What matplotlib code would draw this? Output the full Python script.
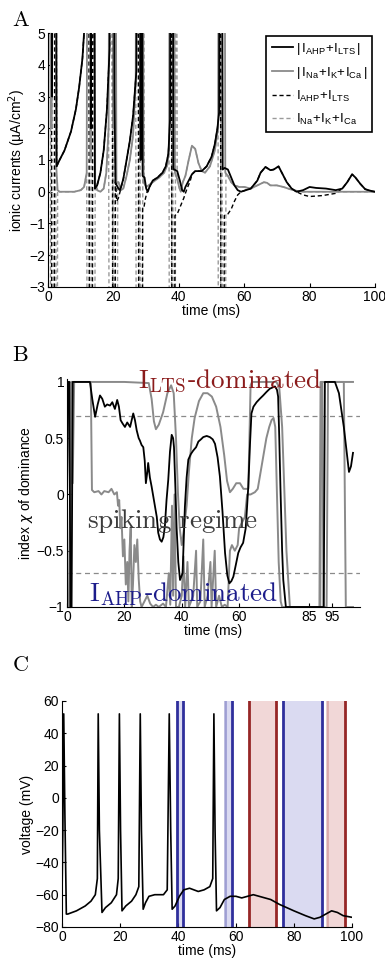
#!/usr/bin/env python3
# -*- coding: utf-8 -*-
"""
Corrientes ionicas, indice de dominancia y voltaje
"""

import numpy as np
import matplotlib.pyplot as plt

plt.rcParams.update({'font.size': 10, 'font.family': ['Liberation Sans', 'DejaVu Sans'],
                     'xtick.direction': 'in', 'ytick.direction': 'in',
                     'mathtext.fontset': 'dejavusans'})

#%% Datos panel A: corrientes (tiempo en ms, corriente en uA/cm2)
t_ahp = [0, 0.3, 0.9, 1.2, 1.6, 2.3, 2.6, 3.5, 5, 7, 8.5, 9.5, 10.5, 11.3, 12.3, 12.8, 13.1, 13.4,
         13.8, 14.3, 15, 16, 17, 18, 18.8, 19.5, 19.9, 20.3, 20.6, 21, 21.5, 22, 23, 24, 25, 26, 27,
         27.4, 27.9, 28.3, 28.6, 28.9, 29.5, 30, 30.5, 31, 32, 33.5, 35, 36, 36.8, 37.3, 37.6, 38.0,
         38.3, 38.6, 39.5, 40.3, 41, 41.5, 42, 43, 44, 45, 47, 48.5, 50, 51, 51.8, 52.3, 52.6, 53.0,
         53.4, 54, 55, 56, 57, 58, 59, 60.5, 62, 64, 65, 66.5, 68, 69, 70.5, 71.5, 73, 74.5, 76, 78,
         80, 82, 85, 88, 90, 91.5, 93, 94, 95.5, 97, 99, 100]
i_ahp_abs = [1.5, 20, 20, 3, 20, 20, 0.8, 1.0, 1.3, 1.9, 2.6, 3.3, 4.2, 5.5, 20, 20, 2, 20,
             20, 0.1, 0.2, 0.6, 1.3, 2.6, 4.5, 20, 20, 3.1, 0.3, 0.2, 0.1, 0.05, 0.4, 1.0, 1.6, 2.4, 3.8,
             20, 20, 1, 20, 0.5, 0.45, 0.1, 0.0, 0.15, 0.35, 0.45, 0.6, 0.8, 1.2, 2.3, 20, 20,
             0.7, 0.7, 0.65, 0.35, 0.05, 0.0, 0.15, 0.35, 0.55, 0.65, 0.65, 0.8, 1.1, 1.5, 2.0, 2.5, 20, 20,
             0.7, 0.75, 0.7, 0.45, 0.2, 0.05, 0.0, 0.05, 0.1, 0.35, 0.6, 0.78, 0.68, 0.7, 0.8, 0.6, 0.3, 0.1, 0.0, 0.05,
             0.15, 0.12, 0.1, 0.05, 0.1, 0.3, 0.55, 0.45, 0.25, 0.08, 0.02, 0.0]

t_ahp_s = [0, 0.3, 0.9, 1.2, 1.6, 2.3, 2.6, 3.5, 5, 7, 8.5, 9.5, 10.5, 11.3, 12.3, 12.8, 13.4,
           13.8, 14.3, 15, 16, 17, 18, 18.8, 19.5, 19.9, 20.3, 20.6, 21, 21.5, 22, 23, 24, 25, 26, 27,
           27.4, 27.9, 28.6, 28.9, 29.3, 29.8, 30.3, 31, 32, 33.5, 35, 36, 36.8, 37.3, 37.6, 38.0,
           38.5, 38.8, 39.5, 40.5, 41.5, 42.5, 43.5, 44, 45, 47, 48.5, 50, 51, 51.8, 52.3, 52.6, 53.0,
           53.6, 53.9, 55, 56, 57, 58, 59, 60.5, 62, 64, 65, 66.5, 68, 69, 70.5, 71.5, 73, 74.5, 76, 78,
           80, 84, 88, 90, 91.5, 93, 94, 95.5, 97, 99, 100]
i_ahp = [1.5, 20, 20, -20, -20, 20, 0.8, 1.0, 1.3, 1.9, 2.6, 3.3, 4.2, 5.5, 20, -20, -20,
         20, 0.1, 0.2, 0.6, 1.3, 2.6, 4.5, 20, -20, -20, 0.3, -0.3, -0.2, 0.0, 0.4, 1.0, 1.6, 2.4, 3.8,
         20, -20, -20, -0.5, -0.5, -0.2, 0.0, 0.15, 0.35, 0.45, 0.6, 0.8, 1.2, 2.3, 20, -20,
         -20, -0.75, -0.7, -0.45, -0.2, 0.1, 0.35, 0.55, 0.65, 0.65, 0.8, 1.1, 1.5, 2.0, 2.5, 20, -20,
         -20, -0.75, -0.7, -0.55, -0.3, -0.1, 0.0, 0.05, 0.1, 0.35, 0.6, 0.78, 0.68, 0.7, 0.8, 0.6, 0.3, 0.1, 0.0, -0.1,
         -0.15, -0.12, -0.05, 0.1, 0.3, 0.55, 0.45, 0.25, 0.08, 0.02, 0.0]

t_na = [0, 0.2, 0.7, 1.0, 1.4, 2.2, 2.5, 2.9, 3.5, 8, 10, 11, 11.8, 12.2, 12.7, 13.0, 13.3, 14.0,
        14.4, 15, 16, 17, 17.8, 18.5, 19.0, 19.6, 20.0, 20.4, 20.9, 21.5, 22.3, 23, 24, 25, 26, 26.8,
        27.2, 27.8, 28.2, 28.8, 29.2, 30, 30.7, 32, 34, 35.5, 36.5, 37.0, 37.4, 38.2, 38.8, 39.5,
        40.2, 40.6, 41.2, 42, 43, 44, 45, 46, 47, 48, 49.5, 51, 52, 52.4, 53.2, 53.8, 54.2, 55, 56,
        57, 58.5, 60, 62, 64, 66, 67, 68, 70, 72, 74, 76, 78, 100]
i_na_abs = [0.5, 20, 20, 2, 20, 20, 0.8, 0.05, 0.0, 0.0, 0.05, 0.15, 0.6, 20, 20, 1, 20, 20,
            0.3, 0.05, 0.0, 0.1, 0.6, 2, 20, 20, 2, 20, 0.3, 0.3, 0.05, 0.1, 0.5, 1.0, 1.8, 3.5,
            20, 20, 2, 20, 0.3, 0.15, 0.2, 0.3, 0.45, 0.6, 0.85, 1.5, 20, 20, 0.6, 0.4,
            0.1, 0.0, 0.3, 0.5, 1.0, 1.45, 1.35, 0.9, 0.65, 0.6, 0.8, 1.3, 2.0, 20, 20, 20, 0.6, 0.5, 0.3,
            0.2, 0.15, 0.15, 0.1, 0.2, 0.3, 0.28, 0.2, 0.2, 0.15, 0.08, 0.03, 0.0, 0.0]

t_na_s = [0, 0.2, 0.6, 0.9, 1.3, 1.7, 2.1, 2.6, 2.9, 3.5, 8, 10, 11, 11.8, 12.2, 12.6, 13.1, 13.6,
          14.0, 14.4, 15, 16, 17, 17.8, 18.5, 19.0, 19.6, 20.0, 20.4, 20.9, 21.3, 21.6, 22.3, 23, 24,
          25, 26, 26.8, 27.2, 27.6, 28.0, 28.4, 28.8, 29.1, 29.4, 30, 30.7, 32, 34, 35.5, 36.5, 37.0,
          37.2, 37.6, 38.0, 38.4, 38.8, 39.1, 39.5, 40.2, 40.6, 41.2, 42, 43, 44, 45, 46, 47, 48, 49.5,
          51, 52, 52.2, 52.6, 53.0, 53.5, 54.0, 54.4, 55, 56, 57, 58.5, 60, 62, 64, 66, 67, 68, 70, 72,
          74, 76, 78, 100]
i_na = [0.5, -20, -20, 20, -20, -20, 20, -20, 0.05, 0.0, 0.0, 0.05, 0.15, 0.6, -20, -20, 20, -20,
        -20, 0.3, 0.05, 0.0, 0.1, 0.6, 2, -20, -20, 20, -20, -20, 0.3, 0.3, 0.05, 0.1, 0.5,
        1.0, 1.8, 3.5, -20, -20, 20, -20, -20, 20, 0.3, 0.15, 0.2, 0.3, 0.45, 0.6, 0.85, 1.5,
        -20, -20, 20, -20, -20, 20, 0.4, 0.1, 0.0, 0.3, 0.5, 1.0, 1.45, 1.35, 0.9, 0.65, 0.6, 0.8,
        1.3, 2.0, -20, -20, 20, -20, -20, 0.6, 0.5, 0.3, 0.2, 0.15, 0.15, 0.1, 0.2, 0.3, 0.28, 0.2, 0.2, 0.15,
        0.08, 0.03, 0.0, 0.0]

#%% Datos panel B: indice de dominancia
t_chi = [0, 0.3, 0.8, 1.2, 1.6, 2.0, 8.0, 8.8, 9.8, 10.7, 11.5, 12.3, 13.2, 14.0, 15.0, 15.8, 16.7,
         17.5, 18.1, 18.7, 19.4, 20.2, 21.0, 22.0, 23.1, 23.7, 24.3, 25.0, 25.4, 26.0, 26.6, 27.1,
         27.5, 28.0, 28.3, 28.9, 29.5, 30.1, 30.7, 31.3, 31.8, 32.4, 33.0, 33.6, 34.1, 34.7, 35.3,
         35.9, 36.5, 37.0, 37.3, 37.8, 38.2, 38.8, 39.4, 40.3, 40.7, 41.1, 41.7, 42.3, 43.2, 44.0,
         45.0, 45.8, 46.7, 47.5, 48.7, 49.8, 50.8, 51.6, 52.5, 53.3, 54.2, 55.1, 55.9, 56.6, 57.3,
         58.0, 58.9, 59.7, 60.5, 61.4, 62.3, 62.8, 63.2, 63.8, 64.3, 65.0, 66.1, 67.2, 68.4, 69.5,
         70.7, 71.6, 72.5, 73.2, 73.6, 74.0, 74.4, 75.0, 75.4, 76.3, 89.5, 89.9, 93.4, 94.8, 96.5,
         98.3, 99.0, 99.7]
chi = [0, 1, 1, -1, -1, 1, 1, 0.85, 0.69, 0.8, 0.88, 0.85, 0.78, 0.8, 0.79, 0.82, 0.76,
       0.84, 0.78, 0.66, 0.63, 0.6, 0.64, 0.6, 0.72, 0.66, 0.57, 0.5, 0.48, 0.44, 0.42, 0.3,
       0.1, 0.2, 0.28, 0.15, 0.07, -0.02, -0.11, -0.2, -0.34, -0.4, -0.42, -0.38, -0.29, -0.05, 0.13,
       0.38, 0.53, 0.5, 0.42, 0.05, -0.29, -0.6, -0.76, -0.7, -0.4, -0.11, 0.15, 0.31, 0.36, 0.39,
       0.42, 0.47, 0.49, 0.51, 0.52, 0.51, 0.49, 0.45, 0.33, 0.16, -0.15, -0.52, -0.72, -0.79, -0.77,
       -0.73, -0.62, -0.52, -0.47, -0.43, -0.3, -0.1, 0.07, 0.45, 0.72, 0.78, 0.82, 0.85, 0.88, 0.91,
       0.94, 0.95, 0.96, 0.93, 0.87, 0.5, 0.07, -0.5, -0.76, -1, -1, 1, 1, 0.9, 0.6,
       0.2, 0.25, 0.37]

t_chi_max = [0, 0.5, 1.0, 1.5, 2.0, 2.5, 20, 28.5, 29.5, 30.3, 31.0, 32.0, 33.5, 35.0, 36.3, 37.2,
             38.0, 38.7, 39.3, 40.0, 40.8, 41.7, 42.5, 43.5, 44.5, 46.0, 47.5, 49.0, 50.5, 52.0,
             53.5, 54.8, 55.8, 56.8, 57.8, 59.0, 60.3, 61.5, 62.5, 63.2, 63.6, 64.0, 64.5, 73.0,
             74.0, 75.0, 76.5, 77.7, 88.3, 88.7, 99.7]
chi_max = [0, 1, 1, 0.1, 0.1, 1, 1, 0.99, 0.85, 0.65, 0.58, 0.62, 0.73, 0.9, 0.97, 0.9,
           0.5, 0.0, -0.3, -0.45, -0.3, -0.1, 0.2, 0.5, 0.68, 0.83, 0.9, 0.9, 0.87, 0.78,
           0.6, 0.35, 0.12, 0.02, 0.05, 0.1, 0.1, 0.05, 0.05, 0.05, 0.5, 0.97, 1.0, 1.0,
           0.95, 0.6, -0.5, -1, -1, 1, 1]

t_chi_min = [0, 0.4, 1.0, 1.6, 2.4, 8.3, 8.7, 9.5, 11, 12, 13, 14.5, 15.5, 16.5, 17.4, 17.8, 18.2,
             18.6, 19.0, 19.5, 20.0, 20.5, 21.0, 21.4, 21.8, 22.2, 22.6, 23.0, 23.5, 24.0, 24.5,
             25.0, 25.5, 26.0, 27.0, 28.0, 29.0, 30.0, 31.0, 32.0, 33.5, 34.5, 35.5, 36.0, 36.6,
             37.0, 37.5, 38.0, 39.0, 40.0, 40.6, 41.2, 42.0, 42.5, 44.0, 45.0, 45.4, 46.5, 47.5,
             48.0, 49.0, 50.0, 50.4, 51.5, 52.0, 53.0, 54.0, 55.0, 56.0, 56.8, 57.5, 58.5, 59.5,
             60.0, 61.0, 62.0, 62.8, 64.0, 65.5, 66.5, 67.5, 68.5, 69.5, 70.5, 71.3, 72.0, 72.6,
             73.2, 73.8, 74.5, 75.0, 88.0, 88.4, 89.0, 89.4, 90.5, 91.0, 96.5, 97.2, 99.7]
chi_min = [0, -1, -1, 1, 1, 1, 0.04, 0.02, 0.03, 0.0, 0.03, 0.02, 0.05, 0.0, 0.02, -0.1, -0.05,
           -0.3, -0.2, -0.55, -0.4, -0.8, -0.6, -0.95, -0.5, -0.3, -1.0, -0.8, -0.45, -0.6, -0.4,
           -0.75, -0.95, -1.0, -0.95, -0.9, -0.97, -1.0, -0.98, -1.0, -0.97, -1.0, -0.7, -0.98, -0.1,
           -0.9, 0.0, -1.0, -1.0, -0.9, -0.55, -1.0, -0.6, -1.0, -0.9, -0.5, -1.0, -0.95, -0.4,
           -1.0, -0.9, -0.6, -1.0, -0.5, -1.0, -0.9, -1.0, -0.98, -1.0, -0.5, -0.45, -0.5, -0.45,
           -0.3, -0.25, -0.2, 0.0, 0.0, 0.02, 0.05, 0.2, 0.35, 0.5, 0.6, 0.66, 0.68, 0.6,
           0.0, -0.6, -0.95, -1.0, -1.0, 1.0, 1.0, -1.0, -1.0, 1.0, 1.0, -1.0, -1.0]

umbral = 0.7
ticks_b = [0, 20, 40, 60, 84.5, 92.3]
etiquetas_b = ['0', '20', '40', '60', '85', '95']

#%% Datos panel C: voltaje
t_v = [0, 0.3, 0.6, 1.0, 1.5, 2, 5, 8, 10, 11.5, 12.2, 12.5, 12.9, 13.8, 15, 17, 18.8, 19.4,
       19.8, 20.2, 20.7, 22, 24, 25.5, 26.5, 27.0, 27.4, 28.0, 28.8, 30, 32, 35, 36.3, 37.0, 37.5,
       38.0, 39, 40.5, 42, 44, 47, 49, 51, 52.0, 52.4, 52.8, 53.3, 54.5, 56, 58, 60, 62, 64, 66,
       68, 70, 72, 75, 80, 84, 87, 89, 91, 93, 95, 97, 100]
v = [-62, -20, 52, -10, -72, -72, -70, -67, -64, -60, -50, 52, -20, -71, -68, -65, -60, -50,
     52, -20, -70, -67, -64, -60, -55, 52, -20, -69, -65, -61, -60, -60, -57, 52, -20,
     -69, -67, -61, -57, -56, -58, -57, -55, -50, 52, -20, -70, -68, -63, -61, -61, -62, -61, -60,
     -61, -62, -63, -66, -70, -73, -75, -74, -72, -70, -71, -73, -74]

# intervalos de dominancia: inicio, fin
ini_ahp = [39.8, 56.2, 76.1]
fin_ahp = [41.6, 58.7, 89.8]
ini_lts = [64.6, 91.3]
fin_lts = [73.8, 97.6]

azul, azul_claro = '#2f2f9c', '#dadaf1'
rojo, rojo_claro = '#962626', '#f1d7d7'
gris = '#8a8a8a'

#%% Figura
fig = plt.figure(figsize=(3.85, 9.65), dpi=100)
axA = fig.add_axes([0.125, 0.7026, 0.849, 0.2632])
axB = fig.add_axes([0.174, 0.371, 0.760, 0.2367])
axC = fig.add_axes([0.161, 0.0394, 0.753, 0.2342])

for ax in (axA, axB, axC):
    ax.spines['top'].set_visible(False)
    ax.spines['right'].set_visible(False)
    ax.tick_params(length=3, labelsize=10, pad=2)

# Panel A *********************************************************************
ax = axA
ax.plot(t_na_s, i_na, '--', color='#9a9a9a', lw=1, dashes=(3, 2), label=r'$\mathregular{I_{Na}\!+\!I_K\!+\!I_{Ca}}$')
ax.plot(t_ahp_s, i_ahp, '--', color='black', lw=1, dashes=(3, 2), label=r'$\mathregular{I_{AHP}\!+\!I_{LTS}}$')
ax.plot(t_na, i_na_abs, '-', color=gris, lw=1.3, label=r'$\mathregular{|\,I_{Na}\!+\!I_K\!+\!I_{Ca}\,|}$')
ax.plot(t_ahp, i_ahp_abs, '-', color='black', lw=1.3, label=r'$\mathregular{|\,I_{AHP}\!+\!I_{LTS}\,|}$')
ax.set_xlim(0, 100)
ax.set_ylim(-3, 5)
ax.set_xticks(range(0, 101, 20))
ax.set_yticks(range(-3, 6))
ax.set_xlabel('time (ms)', labelpad=0)
ax.set_ylabel(r'ionic currents (µA/cm$^2$)', labelpad=1)
h, l = ax.get_legend_handles_labels()
leg = ax.legend(h[::-1], l[::-1], loc='upper right', fontsize=9.5, handlelength=1.6,
                handletextpad=0.2, labelspacing=0.6, borderpad=0.4, borderaxespad=0.2,
                fancybox=False, framealpha=1, edgecolor='black')
leg.get_frame().set_linewidth(1.2)

# Panel B *********************************************************************
ax = axB
ax.axhline(umbral, color=gris, ls='--', lw=0.9, dashes=(4, 3))
ax.axhline(-umbral, color=gris, ls='--', lw=0.9, dashes=(4, 3))
ax.plot(t_chi_min, chi_min, color=gris, lw=1.4)
ax.plot(t_chi_max, chi_max, color=gris, lw=1.4)
ax.plot(t_chi, chi, color='black', lw=1.3)
ax.set_xlim(0, 102)
ax.set_ylim(-1, 1.03)
ax.set_xticks(ticks_b, labels=etiquetas_b)
ax.set_yticks([-1, -0.5, 0, 0.5, 1], labels=['\u22121', '\u22120.5', '0', '0.5', '1'])
ax.set_xlabel('time (ms)', labelpad=0)
ax.set_ylabel(r'index $\chi$ of dominance', labelpad=1)
ax.text(56.8, 1.0, r'$\mathrm{I_{LTS}}$-$\mathrm{dominated}$', color='#8b1c1c', fontsize=19.5,
        math_fontfamily='cm', ha='center', va='center')
ax.text(36.6, -0.24, r'$\mathrm{spiking\ regime}$', color='#3c3c3c', fontsize=19.5,
        math_fontfamily='cm', ha='center', va='center')
ax.text(40.8, -0.89, r'$\mathrm{I_{AHP}}$-$\mathrm{dominated}$', color='#1c1c8b', fontsize=19.5,
        math_fontfamily='cm', ha='center', va='center')

# Panel C *********************************************************************
ax = axC
for a, b in zip(ini_ahp, fin_ahp):
    ax.axvspan(a, b, color=azul_claro, lw=0)
    ax.axvline(b, color=azul, lw=2)
for a, b in zip(ini_lts, fin_lts):
    ax.axvspan(a, b, color=rojo_claro, lw=0)
    ax.axvline(b, color=rojo, lw=2)
# bordes izquierdos (dos de ellos mas tenues)
ax.axvline(ini_ahp[0], color=azul, lw=2)
ax.axvline(ini_ahp[1], color=azul, lw=2, alpha=0.35)
ax.axvline(ini_ahp[2], color=azul, lw=2)
ax.axvline(ini_lts[0], color=rojo, lw=2)
ax.axvline(ini_lts[1], color=rojo, lw=2, alpha=0.25)
ax.plot(t_v, v, color='black', lw=1.2)
ax.set_xlim(0, 100)
ax.set_ylim(-80, 60)
ax.set_xticks(range(0, 101, 20))
ax.set_yticks(range(-80, 61, 20))
ax.set_xlabel('time (ms)', labelpad=0)
ax.set_ylabel('voltage (mV)', labelpad=1)

# Letras de panel *************************************************************
for letra, y in zip('ABC', [0.990, 0.643, 0.321]):
    fig.text(0.03, y, r'$\mathrm{%s}$' % letra, fontsize=16, math_fontfamily='cm', va='top')

fig.savefig('out.png', dpi=100)
